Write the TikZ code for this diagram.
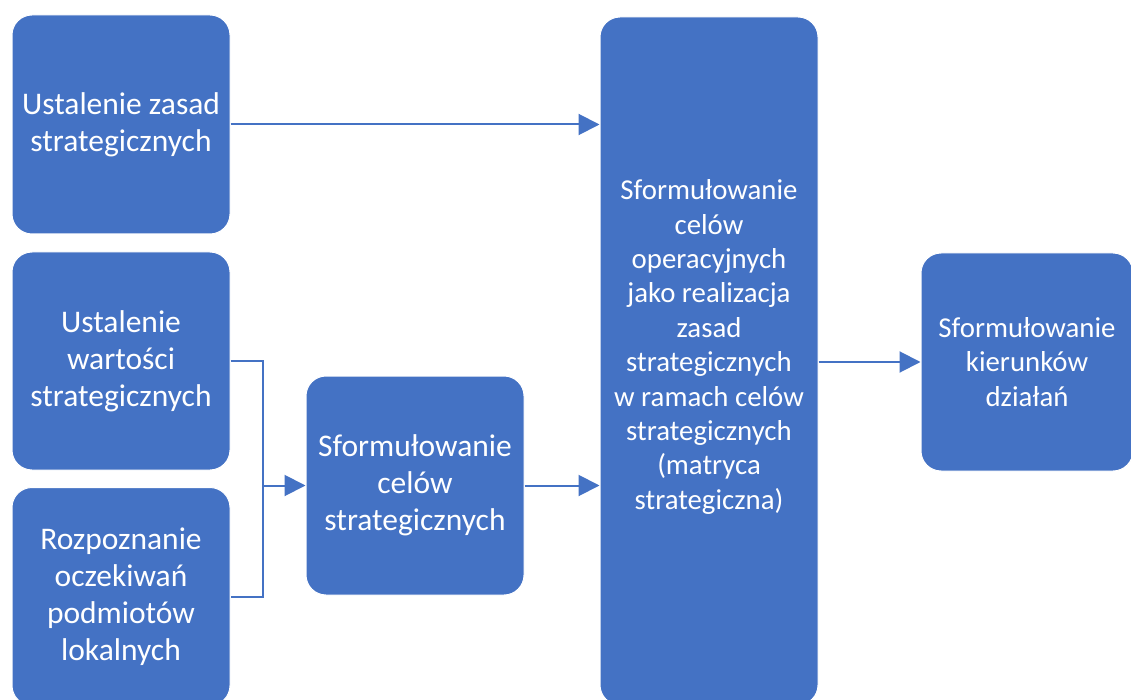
\documentclass[tikz,border=0pt]{standalone}
\usepackage{fontspec}
\setmainfont{Carlito}
\usetikzlibrary{arrows.meta,calc}
\definecolor{boxblue}{HTML}{4472C4}
\begin{document}
\begin{tikzpicture}[x=1pt,y=-1pt,
  box/.style={draw=white, line width=1pt, fill=boxblue, rounded corners=20pt,
    text=white, align=center, font=\fontsize{31.5}{37}\selectfont, inner sep=0pt,
    minimum width=218pt},
  smalltxt/.style={text=white, align=center, font=\fontsize{28.8}{34.4}\selectfont, inner sep=0pt},
  conn/.style={draw=boxblue, line width=2pt},
  arr/.style={conn, -{Triangle[length=21pt,width=21pt]}}]
\useasboundingbox (0,0) rectangle (1131,700);
\clip (0,0) rectangle (1131,700);
\node[box, minimum height=219pt] (b1) at (121,124.5) {Ustalenie zasad\\strategicznych};
\node[box, minimum height=218pt] (b2) at (121,361) {Ustalenie\\wartości\\strategicznych};
\node[box, minimum height=218pt] (b3) at (121,596.5) {Rozpoznanie\\oczekiwań\\podmiotów\\lokalnych};
\node[box, minimum height=219pt] (b4) at (415,485.5) {Sformułowanie\\celów\\strategicznych};
\node[box, minimum height=688pt] (big) at (709,361) {};
\node[smalltxt] (bigtxt) at (709,347) {Sformułowanie\\celów\\operacyjnych\\jako realizacja\\zasad\\strategicznych\\w ramach celów\\strategicznych\\(matryca\\strategiczna)};
\node[box, minimum width=212pt, minimum height=218pt, font=\fontsize{28.8}{34.4}\selectfont] (b6) at (1027,362) {Sformułowanie\\kierunków\\działań};
\coordinate (j) at (263,485.5);
\draw[arr] (b1.east) -- (b1.east -| big.west);
\draw[conn] (b2.east) -| (j) |- (b3.east);
\draw[arr] (j) -- (b4.west);
\draw[arr] (b4.east) -- (b4.east -| big.west);
\draw[arr] (big.east |- b6.west) -- (b6.west);
\end{tikzpicture}
\end{document}
